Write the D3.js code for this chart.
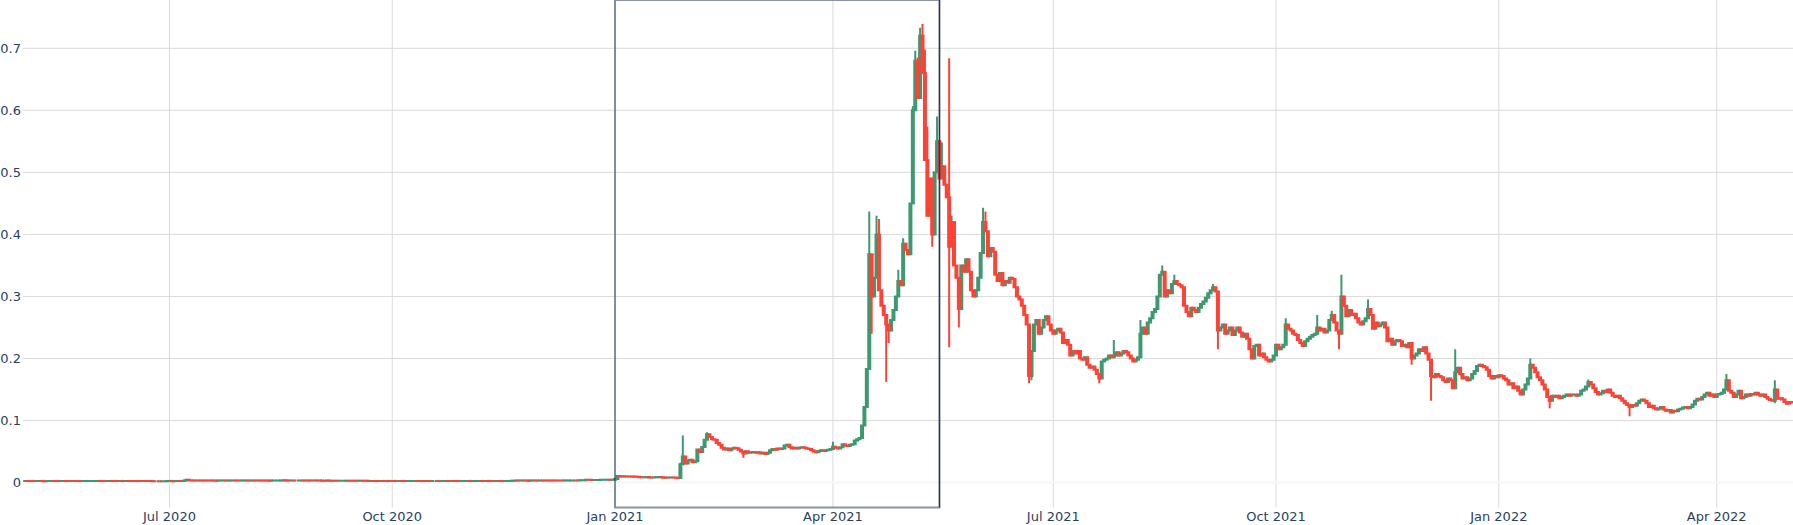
<!DOCTYPE html>
<html>
<head>
<meta charset="utf-8">
<script src="https://cdn.jsdelivr.net/npm/d3@7"></script>
<style>
body{margin:0;background:#fff}
text{font-family:"DejaVu Sans",verdana,arial,sans-serif;font-size:13px;fill:#2a3f5f}
</style>
</head>
<body>
<div id="chart"></div>
<script>
const width = 1793
const height = 525
const margin = {top:0, bottom:17.5, left:23, right:0}

// daily closes, one array per month (open = previous close)
const may20 = [0.00254,0.00252,0.00248,0.00251,0.00250,0.00256,0.00259,0.00248,0.00237,0.00241,0.00244,0.00248,0.00246,0.00253,0.00252,0.00257,0.00259,0.00256,0.00257,0.00248,0.00250,0.00247,0.00250,0.00241,0.00247,0.00248,0.00253,0.00257,0.00257,0.00262]
const jun20 = [0.00271,0.00268,0.00266,0.00262,0.00263,0.00266,0.00262,0.00261,0.00260,0.00261,0.00245,0.00249,0.00251,0.00248,0.00246,0.00249,0.00247,0.00245,0.00243,0.00246,0.00243,0.00245,0.00244,0.00238,0.00238,0.00238,0.00234,0.00236,0.00236,0.00242]
const jul20 = [0.00242,0.00240,0.00245,0.00248,0.00243,0.00256,0.00351,0.00444,0.00380,0.00355,0.00345,0.00349,0.00331,0.00330,0.00334,0.00330,0.00327,0.00324,0.00328,0.00319,0.00322,0.00325,0.00328,0.00327,0.00332,0.00335,0.00348,0.00327,0.00323,0.00329,0.00330]
const aug20 = [0.00340,0.00328,0.00333,0.00340,0.00336,0.00339,0.00336,0.00342,0.00341,0.00336,0.00320,0.00326,0.00334,0.00334,0.00338,0.00359,0.00365,0.00357,0.00344,0.00350,0.00349,0.00349,0.00349,0.00351,0.00346,0.00348,0.00341,0.00349,0.00348,0.00356,0.00353]
const sep20 = [0.00355,0.00319,0.00299,0.00323,0.00290,0.00288,0.00292,0.00286,0.00290,0.00290,0.00291,0.00299,0.00288,0.00295,0.00294,0.00291,0.00293,0.00300,0.00299,0.00292,0.00278,0.00278,0.00268,0.00270,0.00269,0.00272,0.00268,0.00270,0.00267,0.00267]
const oct20 = [0.00264,0.00258,0.00258,0.00259,0.00257,0.00251,0.00253,0.00253,0.00256,0.00260,0.00259,0.00260,0.00259,0.00257,0.00258,0.00257,0.00258,0.00258,0.00258,0.00256,0.00262,0.00263,0.00263,0.00261,0.00261,0.00257,0.00257,0.00253,0.00254,0.00256,0.00259]
const nov20 = [0.00264,0.00254,0.00256,0.00256,0.00262,0.00268,0.00266,0.00267,0.00263,0.00262,0.00260,0.00261,0.00270,0.00262,0.00261,0.00262,0.00271,0.00276,0.00284,0.00295,0.00341,0.00337,0.00343,0.00350,0.00343,0.00314,0.00323,0.00345,0.00333,0.00340]
const dec20 = [0.00343,0.00336,0.00340,0.00334,0.00337,0.00334,0.00327,0.00325,0.00325,0.00322,0.00323,0.00324,0.00331,0.00357,0.00357,0.00355,0.00370,0.00375,0.00385,0.00455,0.00445,0.00428,0.00430,0.00438,0.00441,0.00456,0.00456,0.00460,0.00462,0.00460,0.00468]
const jan21 = [0.00568,0.01070,0.00998,0.01030,0.00985,0.00982,0.00990,0.00977,0.00948,0.00934,0.00864,0.00852,0.00855,0.00899,0.00839,0.00837,0.00867,0.00877,0.00890,0.00864,0.00796,0.00823,0.00822,0.00832,0.00827,0.00791,0.00745,0.0295,0.0420,0.0310,0.0355]
const feb21 = [0.0370,0.0330,0.0345,0.0535,0.0495,0.0575,0.0690,0.0780,0.0735,0.0700,0.0690,0.0640,0.0610,0.0560,0.0535,0.0550,0.0520,0.0545,0.0560,0.0555,0.0530,0.0500,0.0470,0.0505,0.0480,0.0490,0.0495,0.0480]
const mar21 = [0.049,0.047,0.048,0.046,0.048,0.052,0.054,0.053,0.055,0.054,0.055,0.060,0.061,0.057,0.055,0.056,0.055,0.056,0.057,0.056,0.055,0.054,0.052,0.050,0.049,0.051,0.052,0.051,0.052,0.053,0.054]
const apr21 = [0.058,0.056,0.055,0.057,0.062,0.060,0.059,0.061,0.062,0.068,0.070,0.072,0.092,0.122,0.183,0.368,0.300,0.330,0.400,0.310,0.285,0.270,0.255,0.245,0.262,0.278,0.300,0.325,0.318,0.385]
const may21 = [0.375,0.368,0.450,0.600,0.680,0.620,0.720,0.660,0.520,0.430,0.490,0.400,0.500,0.550,0.490,0.510,0.480,0.460,0.380,0.420,0.350,0.330,0.280,0.350,0.340,0.360,0.340,0.310,0.300,0.310,0.330]
const jun21 = [0.370,0.420,0.405,0.365,0.378,0.372,0.335,0.325,0.338,0.318,0.325,0.322,0.330,0.328,0.315,0.300,0.295,0.285,0.270,0.255,0.172,0.212,0.255,0.262,0.240,0.250,0.262,0.268,0.255,0.245]
const jul21 = [0.240,0.245,0.248,0.242,0.225,0.230,0.222,0.205,0.212,0.208,0.212,0.200,0.198,0.202,0.190,0.185,0.187,0.182,0.175,0.168,0.195,0.198,0.200,0.205,0.202,0.205,0.210,0.205,0.208,0.212,0.210]
const aug21 = [0.205,0.200,0.195,0.198,0.202,0.240,0.250,0.240,0.258,0.265,0.275,0.280,0.300,0.335,0.340,0.300,0.310,0.305,0.320,0.325,0.320,0.318,0.315,0.285,0.275,0.268,0.282,0.278,0.275,0.282,0.288]
const sep21 = [0.292,0.298,0.305,0.310,0.315,0.308,0.245,0.250,0.255,0.240,0.245,0.250,0.238,0.245,0.250,0.242,0.235,0.240,0.232,0.215,0.200,0.220,0.222,0.205,0.208,0.202,0.198,0.195,0.198,0.205]
const oct21 = [0.222,0.215,0.218,0.222,0.255,0.248,0.245,0.240,0.238,0.230,0.225,0.220,0.228,0.232,0.235,0.238,0.240,0.250,0.245,0.248,0.242,0.245,0.262,0.270,0.258,0.245,0.240,0.300,0.285,0.268,0.278]
const nov21 = [0.270,0.272,0.265,0.258,0.255,0.260,0.265,0.280,0.270,0.248,0.258,0.252,0.255,0.258,0.250,0.228,0.232,0.222,0.228,0.230,0.228,0.220,0.222,0.218,0.225,0.200,0.205,0.208,0.215,0.212]
const dec21 = [0.218,0.208,0.198,0.172,0.170,0.175,0.172,0.170,0.165,0.162,0.168,0.165,0.152,0.178,0.185,0.175,0.168,0.170,0.165,0.168,0.175,0.180,0.188,0.190,0.188,0.186,0.182,0.172,0.168,0.172,0.170]
const jan22 = [0.173,0.172,0.168,0.165,0.158,0.160,0.152,0.155,0.148,0.142,0.150,0.158,0.168,0.190,0.185,0.178,0.170,0.165,0.158,0.150,0.138,0.132,0.140,0.138,0.140,0.136,0.138,0.140,0.142,0.140,0.142]
const feb22 = [0.142,0.140,0.142,0.148,0.150,0.155,0.162,0.158,0.152,0.146,0.142,0.144,0.148,0.146,0.150,0.145,0.140,0.138,0.140,0.136,0.132,0.128,0.125,0.122,0.125,0.124,0.128,0.132]
const mar22 = [0.134,0.132,0.128,0.122,0.124,0.120,0.118,0.120,0.122,0.118,0.116,0.117,0.113,0.116,0.115,0.118,0.119,0.121,0.122,0.120,0.122,0.126,0.132,0.135,0.134,0.138,0.142,0.145,0.140,0.142,0.138]
const apr22 = [0.142,0.143,0.145,0.150,0.165,0.148,0.145,0.138,0.142,0.148,0.136,0.138,0.142,0.140,0.143,0.142,0.145,0.142,0.140,0.142,0.138,0.135,0.133,0.132,0.150,0.135,0.136,0.134,0.130,0.127]
const may22 = [0.130,0.129]

const months = [
    ["2020-05-02", may20], ["2020-06-01", jun20], ["2020-07-01", jul20], ["2020-08-01", aug20],
    ["2020-09-01", sep20], ["2020-10-01", oct20], ["2020-11-01", nov20], ["2020-12-01", dec20],
    ["2021-01-01", jan21], ["2021-02-01", feb21], ["2021-03-01", mar21], ["2021-04-01", apr21],
    ["2021-05-01", may21], ["2021-06-01", jun21], ["2021-07-01", jul21], ["2021-08-01", aug21],
    ["2021-09-01", sep21], ["2021-10-01", oct21], ["2021-11-01", nov21], ["2021-12-01", dec21],
    ["2022-01-01", jan22], ["2022-02-01", feb22], ["2022-03-01", mar22], ["2022-04-01", apr22],
    ["2022-05-01", may22]
]

// visible wicks: [date, high, low] (null = body edge)
const wicks = [
    ["2020-07-07",0.0046,null], ["2020-07-08",0.0052,null], ["2021-01-02",0.0110,null],
    ["2021-01-28",0.0320,null], ["2021-01-29",0.0760,null], ["2021-02-08",0.0810,null],
    ["2021-02-23",null,0.040], ["2021-04-01",0.066,null], ["2021-04-16",0.437,null],
    ["2021-04-17",null,0.240], ["2021-04-19",0.430,null], ["2021-04-20",0.425,null],
    ["2021-04-23",null,0.162], ["2021-04-24",null,0.225], ["2021-04-28",0.343,null],
    ["2021-04-30",0.394,null], ["2021-05-04",0.607,null], ["2021-05-05",0.696,null],
    ["2021-05-06",0.685,null], ["2021-05-07",0.733,null], ["2021-05-08",0.739,null],
    ["2021-05-09",0.698,null], ["2021-05-10",0.574,null], ["2021-05-12",null,0.380],
    ["2021-05-14",0.590,null], ["2021-05-16",0.548,null], ["2021-05-19",0.684,0.218],
    ["2021-05-20",0.430,null], ["2021-05-23",null,0.250], ["2021-06-02",0.443,null],
    ["2021-06-03",0.437,null], ["2021-06-21",null,0.160], ["2021-06-22",null,0.165],
    ["2021-07-20",null,0.160], ["2021-07-26",0.230,null], ["2021-08-06",0.262,null],
    ["2021-08-15",0.350,null], ["2021-08-20",0.335,null], ["2021-09-05",0.320,null],
    ["2021-09-07",null,0.215], ["2021-10-05",0.265,null], ["2021-10-18",0.270,null],
    ["2021-10-24",0.277,null], ["2021-10-27",null,0.215], ["2021-10-28",0.335,null],
    ["2021-11-08",0.295,null], ["2021-11-26",null,0.190], ["2021-12-04",null,0.132],
    ["2021-12-14",0.215,null], ["2022-01-14",0.200,null], ["2022-01-22",null,0.120],
    ["2022-02-07",0.166,null], ["2022-02-24",null,0.107], ["2022-04-05",0.175,null],
    ["2022-04-25",0.165,0.128]
]

const yTicks = [0, 0.1, 0.2, 0.3, 0.4, 0.5, 0.6, 0.7]
const xTicks = ["2020-07-01","2020-10-01","2021-01-01","2021-04-01","2021-07-01","2021-10-01","2022-01-01","2022-04-01"]
const shapeRange = ["2021-01-01", "2021-05-15"]

const upColor = "#3D9970"
const downColor = "#FF4136"

const parse = d3.utcParse("%Y-%m-%d")
const DAY = 864e5

// build OHLC rows
let data = []
let prev = null
months.forEach(([start, closes]) => {
    const t0 = parse(start).getTime()
    closes.forEach((c, i) => {
        const o = prev === null ? c : prev
        data.push({date: new Date(t0 + i*DAY), open: o, close: c, high: Math.max(o,c), low: Math.min(o,c)})
        prev = c
    })
})
const byDay = new Map(data.map(d => [+d.date, d]))
wicks.forEach(([day, h, l]) => {
    const d = byDay.get(+parse(day))
    if (!d) return
    if (h !== null) d.high = Math.max(d.high, h)
    if (l !== null) d.low = Math.min(d.low, l)
})

const svg = d3.select("#chart")
    .append("svg")
    .attr("width", width)
    .attr("height", height)

const plotBottom = height - margin.bottom

const x = d3.scaleUtc()
    .domain([new Date(Date.UTC(2020,4,1,12)), new Date(Date.UTC(2022,4,2,12))])
    .range([margin.left, width - margin.right])
const y = d3.scaleLinear()
    .domain([-0.0401, 0.7778])
    .range([plotBottom, margin.top])

// grid
const gridGroup = svg.append("g")
gridGroup.selectAll(".vgrid").data(xTicks).join("line")
    .attr("x1", d => x(parse(d))).attr("x2", d => x(parse(d)))
    .attr("y1", margin.top).attr("y2", plotBottom)
    .attr("stroke", "#dadada").attr("stroke-width", 1)
gridGroup.selectAll(".hgrid").data(yTicks.filter(d => d !== 0)).join("line")
    .attr("x1", margin.left).attr("x2", width - margin.right)
    .attr("y1", d => y(d)).attr("y2", d => y(d))
    .attr("stroke", "#dadada").attr("stroke-width", 1)
gridGroup.append("line")
    .attr("x1", margin.left).attr("x2", width - margin.right)
    .attr("y1", y(0)).attr("y2", y(0))
    .attr("stroke", "#f4f6fa").attr("stroke-width", 2)

svg.append("clipPath").attr("id", "plotClip")
    .append("rect")
    .attr("x", margin.left).attr("y", margin.top)
    .attr("width", width - margin.left - margin.right)
    .attr("height", plotBottom - margin.top)

// candles
const bodyW = 2
const candlePath = d => {
    const cx = x(d.date)
    const yo = y(d.open), yc = y(d.close)
    const top = Math.min(yo, yc), bot = Math.max(yo, yc)
    return `M${cx - bodyW/2},${top}H${cx + bodyW/2}V${bot}H${cx - bodyW/2}Z` +
        `M${cx},${top}V${y(d.high)}M${cx},${bot}V${y(d.low)}`
}
const elementGroup = svg.append("g").attr("clip-path", "url(#plotClip)")
const up = data.filter(d => d.close >= d.open)
const down = data.filter(d => d.close < d.open)
elementGroup.append("g").selectAll("path").data(up).join("path")
    .attr("d", candlePath)
    .attr("fill", upColor).attr("fill-opacity", 0.5)
    .attr("stroke", upColor).attr("stroke-width", 2)
elementGroup.append("g").selectAll("path").data(down).join("path")
    .attr("d", candlePath)
    .attr("fill", downColor).attr("fill-opacity", 0.5)
    .attr("stroke", downColor).attr("stroke-width", 2)

// shape
const sx0 = x(parse(shapeRange[0])), sx1 = x(parse(shapeRange[1]))
svg.append("rect")
    .attr("x", sx0).attr("y", margin.top)
    .attr("width", sx1 - sx0).attr("height", plotBottom - margin.top)
    .attr("fill", "none")
    .attr("stroke", "#2a3f5f").attr("stroke-opacity", 0.55).attr("stroke-width", 2)
svg.append("line")
    .attr("x1", sx1).attr("x2", sx1)
    .attr("y1", margin.top).attr("y2", plotBottom)
    .attr("stroke", "#2b3556").attr("stroke-width", 1.2)

// axes labels
const axisGroup = svg.append("g")
axisGroup.selectAll(".ylab").data(yTicks).join("text")
    .attr("x", margin.left - 2)
    .attr("y", d => y(d))
    .attr("dy", "0.36em")
    .attr("text-anchor", "end")
    .text(d => d3.format("")(d))
axisGroup.selectAll(".xlab").data(xTicks).join("text")
    .attr("x", d => x(parse(d)))
    .attr("y", 521)
    .attr("text-anchor", "middle")
    .text(d => d3.utcFormat("%b %Y")(parse(d)))
</script>
</body>
</html>
